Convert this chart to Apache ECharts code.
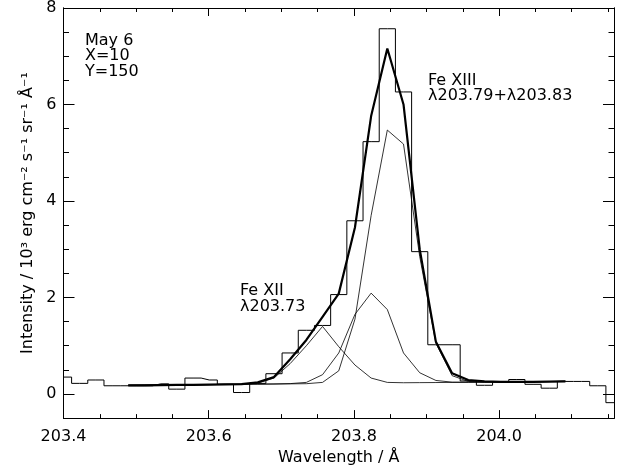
<!DOCTYPE html>
<html>
<head>
<meta charset="utf-8">
<script src="https://cdn.jsdelivr.net/npm/echarts@6/dist/echarts.min.js"></script>
<style>
html,body{margin:0;padding:0;background:#fff;}
#spectrum{width:625px;height:471px;}
</style>
</head>
<body>
<div id="spectrum"></div>
<script>
// wavelength of each detector pixel (A)
var wavelength = [203.4000, 203.4223, 203.4446, 203.4669, 203.4892, 203.5115, 203.5338, 203.5561,
    203.5784, 203.6007, 203.6230, 203.6453, 203.6676, 203.6899, 203.7122, 203.7345,
    203.7568, 203.7791, 203.8014, 203.8237, 203.8460, 203.8683, 203.8906, 203.9129,
    203.9352, 203.9575, 203.9798, 204.0021, 204.0244, 204.0467, 204.0690, 204.0913,
    204.1136, 204.1359, 204.1582];
// observed intensity (histogram)
var observed = [0.35, 0.22, 0.29, 0.17, 0.17, 0.17, 0.21, 0.10, 0.33, 0.29, 0.20, 0.03,
    0.22, 0.42, 0.85, 1.32, 1.42, 2.06, 3.59, 5.23, 7.57, 6.26, 2.95, 1.02,
    1.02, 0.27, 0.18, 0.25, 0.30, 0.20, 0.12, 0.26, 0.26, 0.17, -0.18];
// fit only covers pixels 4..31
var fitStart = 4;
var fitTotal = [0.18, 0.18, 0.185, 0.19, 0.19, 0.195, 0.20, 0.205, 0.24, 0.35, 0.72, 1.12,
    1.60, 2.08, 3.45, 5.76, 7.16, 6.00, 3.00, 1.08, 0.43, 0.29, 0.26, 0.25,
    0.25, 0.25, 0.255, 0.26];
var fitFe12 = [0.18, 0.183, 0.186, 0.189, 0.192, 0.195, 0.198, 0.205, 0.23, 0.33, 0.63, 1.00,
    1.40, 0.98, 0.60, 0.33, 0.24, 0.233, 0.235, 0.237, 0.24, 0.243, 0.246, 0.249,
    0.252, 0.255, 0.258, 0.261];
var fitFe13a = [0.18, 0.183, 0.186, 0.189, 0.192, 0.195, 0.198, 0.201, 0.204, 0.207, 0.215, 0.24,
    0.40, 0.85, 1.65, 2.09, 1.75, 0.85, 0.44, 0.28, 0.245, 0.243, 0.246, 0.249,
    0.252, 0.255, 0.258, 0.261];
var fitFe13b = [0.18, 0.183, 0.186, 0.189, 0.192, 0.195, 0.198, 0.201, 0.204, 0.207, 0.21, 0.213,
    0.24, 0.48, 1.55, 3.70, 5.47, 5.18, 2.85, 1.05, 0.38, 0.26, 0.246, 0.249,
    0.252, 0.255, 0.258, 0.261];

var xMajorTicks = [203.4, 203.6, 203.8, 204.0];
var xMinorTicks = [203.45, 203.5, 203.55, 203.65, 203.7, 203.75, 203.85, 203.9, 203.95, 204.05, 204.1, 204.15];
var yMajorTicks = [0, 2, 4, 6, 8];
var yMinorTicks = [-0.5, 0.5, 1, 1.5, 2.5, 3, 3.5, 4.5, 5, 5.5, 6.5, 7, 7.5];

function pairs(xs, ys, offset){
    var out = [];
    for (var i = 0; i < ys.length; i++) out.push([xs[i + offset], ys[i]]);
    return out;
}

var font = 'DejaVu Sans';
var xMin = 203.4, xMax = 204.1582, yMin = -0.5, yMax = 8;

function xAxisDef(pos, ticks, len, labels){
    return {
        type: 'value', position: pos, min: xMin, max: xMax,
        axisLine: {show: true, onZero: false, lineStyle: {color: '#000', width: 1}},
        axisTick: {show: true, inside: true, length: len, customValues: ticks, lineStyle: {color: '#000', width: 1}},
        axisLabel: labels ? {show: true, customValues: ticks, margin: 11, color: '#000', fontFamily: font, fontSize: 16,
            formatter: function(v){ return v.toFixed(1); }} : {show: false},
        splitLine: {show: false}
    };
}
function yAxisDef(pos, ticks, len, labels){
    return {
        type: 'value', position: pos, min: yMin, max: yMax,
        axisLine: {show: true, onZero: false, lineStyle: {color: '#000', width: 1}},
        axisTick: {show: true, inside: true, length: len, customValues: ticks, lineStyle: {color: '#000', width: 1}},
        axisLabel: labels ? {show: true, customValues: ticks, margin: 7, color: '#000', fontFamily: font, fontSize: 16} : {show: false},
        splitLine: {show: false}
    };
}

var xAxes = [
    xAxisDef('bottom', xMajorTicks, 8, true),
    xAxisDef('bottom', xMinorTicks, 4, false),
    xAxisDef('top', xMajorTicks, 8, false),
    xAxisDef('top', xMinorTicks, 4, false)
];
xAxes[0].name = 'Wavelength / Å';
xAxes[0].nameLocation = 'middle';
xAxes[0].nameGap = 31;
xAxes[0].nameTextStyle = {color: '#000', fontFamily: font, fontSize: 16};

var yAxes = [
    yAxisDef('left', yMajorTicks, 11, true),
    yAxisDef('left', yMinorTicks, 5.5, false),
    yAxisDef('right', yMajorTicks, 11, false),
    yAxisDef('right', yMinorTicks, 5.5, false)
];
yAxes[0].name = 'Intensity / 10³ erg cm⁻² s⁻¹ sr⁻¹ Å⁻¹';
yAxes[0].nameLocation = 'middle';
yAxes[0].nameGap = 27;
yAxes[0].nameTextStyle = {color: '#000', fontFamily: font, fontSize: 16};

function fitLine(data, w){
    return {
        type: 'line', data: pairs(wavelength, data, fitStart), symbol: 'none',
        lineStyle: {color: '#000', width: w}, silent: true, z: 3
    };
}

// annotations, baseline positions in px
function label(text, x, baseline){
    return {type: 'text', x: x, y: baseline - 5.7,
        style: {text: text, fill: '#000', font: '16px "' + font + '"', verticalAlign: 'middle', align: 'left'}};
}

var option = {
    backgroundColor: '#fff',
    animation: false,
    grid: {left: 63.5, right: 11, top: 4, bottom: 51.7, containLabel: false},
    xAxis: xAxes,
    yAxis: yAxes,
    series: [
        {
            type: 'line', step: 'middle', data: pairs(wavelength, observed, 0), symbol: 'none',
            lineStyle: {color: '#000', width: 1}, silent: true, z: 2
        },
        fitLine(fitFe12, 0.8),
        fitLine(fitFe13a, 0.8),
        fitLine(fitFe13b, 0.8),
        fitLine(fitTotal, 2.2)
    ],
    graphic: [
        label('May 6', 85, 46.7),
        label('X=10', 85, 62),
        label('Y=150', 85, 77.3),
        label('Fe XIII', 428, 86.7),
        label('λ203.79+λ203.83', 428, 101.7),
        label('Fe XII', 240, 297),
        label('λ203.73', 240, 313)
    ]
};

var chart = echarts.init(document.getElementById('spectrum'), null, {renderer: 'canvas'});
chart.setOption(option);
</script>
</body>
</html>
